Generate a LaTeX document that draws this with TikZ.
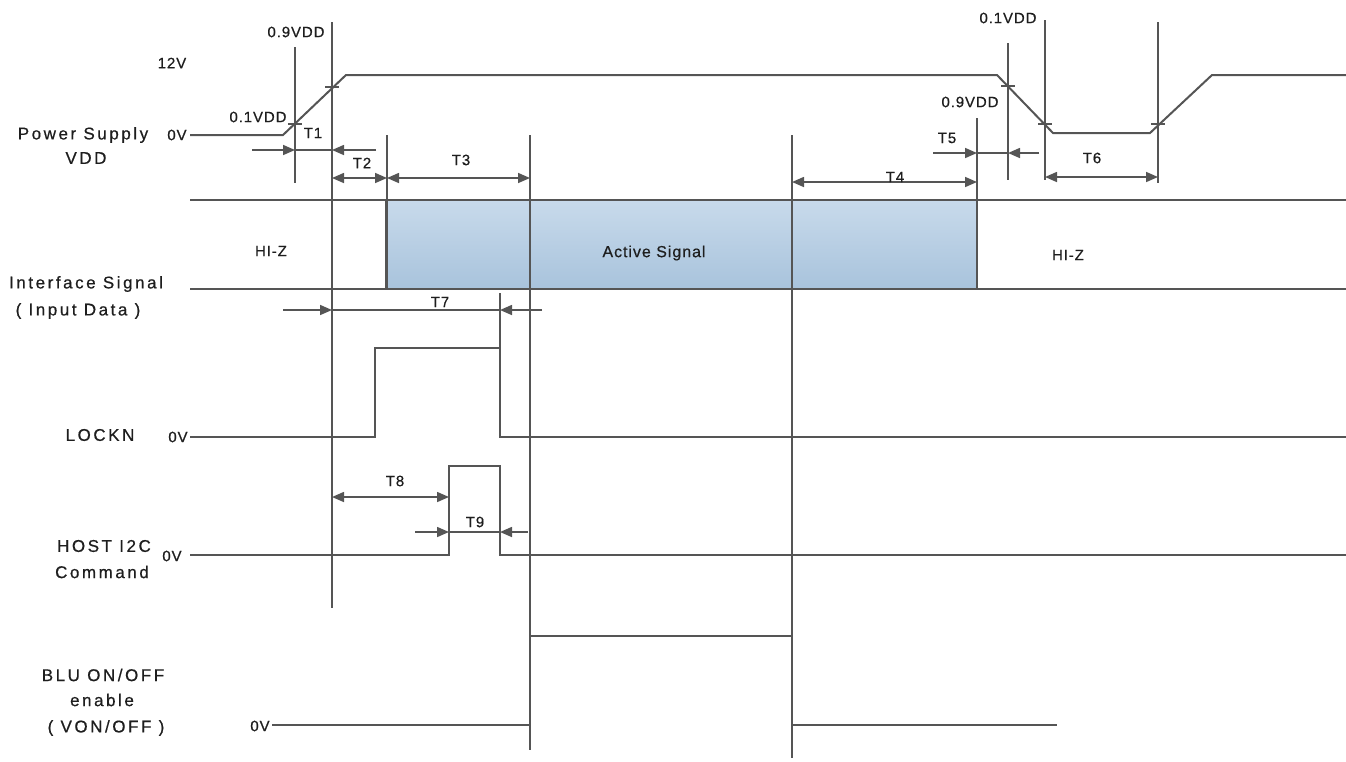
\documentclass[tikz,border=0pt]{standalone}
\usepackage{fontspec}
\setmainfont{Liberation Sans}
\newfontfamily\lblfont[LetterSpace=15,FakeBold=0.6]{Liberation Sans}
\newfontfamily\smfont[LetterSpace=6,FakeBold=0.6]{Liberation Sans}
\usetikzlibrary{arrows.meta}
\definecolor{ln}{HTML}{555555}
\definecolor{txt}{HTML}{1E1E1E}
\definecolor{boxtop}{HTML}{C8DAEB}
\definecolor{boxbot}{HTML}{A8C3DC}
\tikzset{
  sig/.style={draw=ln, line width=2pt, line join=miter},
  vline/.style={draw=ln, line width=1.8pt},
  dim/.style={draw=ln, line width=1.6pt},
  tip/.style={-{Triangle[length=12pt,width=10pt]}},
  tips/.style={{Triangle[length=12pt,width=10pt]}-{Triangle[length=12pt,width=10pt]}},
  lbl/.style={text=txt, inner sep=0pt, font=\lblfont\fontsize{17}{20}\selectfont},
  sm/.style={text=txt, inner sep=0pt, font=\smfont\fontsize{15}{18}\selectfont},
  mk/.style={draw=ln, line width=1.5pt},
}
\begin{document}
\begin{tikzpicture}[x=1pt,y=-1pt]
\useasboundingbox (0,0) rectangle (1346,761);
% ---------- active signal box ----------
\path[top color=boxtop,bottom color=boxbot] (386,200) rectangle (977,289);
% ---------- signals ----------
\draw[sig] (190,135) -- (283,135) -- (346,75) -- (997,75) -- (1053,133) -- (1150,133) -- (1212,75) -- (1346,75);
\draw[sig] (190,200) -- (1346,200);
\draw[sig] (190,289) -- (1346,289);
\draw[sig] (386,200) rectangle (977,289);
\draw[sig] (190,437) -- (375,437) -- (375,348) -- (500,348) -- (500,437) -- (1346,437);
\draw[sig] (190,555) -- (449,555) -- (449,466) -- (500,466) -- (500,555) -- (1346,555);
\draw[sig] (272,725) -- (530,725) -- (530,636) -- (792,636) -- (792,725) -- (1057,725);
% ---------- marker lines ----------
\draw[vline] (295,47) -- (295,183);
\draw[vline] (332,22) -- (332,608);
\draw[vline] (387,135) -- (387,289);
\draw[vline] (530,135) -- (530,750);
\draw[vline] (792,135) -- (792,758);
\draw[vline] (977,118) -- (977,289);
\draw[vline] (1008,43) -- (1008,180);
\draw[vline] (1045,20) -- (1045,180);
\draw[vline] (1158,22) -- (1158,183);
\draw[vline] (500,293) -- (500,348);
% ---------- ticks on ramps ----------
\draw[mk] (288,124) -- (302,124);
\draw[mk] (325,87) -- (339,87);
\draw[mk] (1001,86) -- (1015,86);
\draw[mk] (1038,124) -- (1052,124);
\draw[mk] (1151,124) -- (1165,124);
% ---------- dimension arrows ----------
% T1
\draw[dim,tip] (252,150) -- (295,150);
\draw[dim] (295,150) -- (332,150);
\draw[dim,tip] (376,150) -- (332,150);
% T2, T3
\draw[dim,tips] (332,178) -- (387,178);
\draw[dim,tips] (387,178) -- (530,178);
% T4
\draw[dim,tips] (792,182) -- (977,182);
% T5
\draw[dim,tip] (933,153) -- (977,153);
\draw[dim] (977,153) -- (1008,153);
\draw[dim,tip] (1039,153) -- (1008,153);
% T6
\draw[dim,tips] (1045,177) -- (1158,177);
% T7
\draw[dim,tip] (283,310) -- (332,310);
\draw[dim] (332,310) -- (500,310);
\draw[dim,tip] (542,310) -- (500,310);
% T8
\draw[dim,tips] (332,497) -- (449,497);
% T9
\draw[dim,tip] (415,532) -- (449,532);
\draw[dim] (449,532) -- (500,532);
\draw[dim,tip] (528,532) -- (500,532);
% ---------- small labels ----------
\node[sm] (v09a) at (296,32) {0.9VDD};
\node[sm] (v12) at (172,63) {12V};
\node[sm] (v01a) at (258,117) {0.1VDD};
\node[sm] (ps0) at (177,135) {0V};
\node[sm] (v01b) at (1008,18) {0.1VDD};
\node[sm] (v09b) at (970,102) {0.9VDD};
\node[sm] (t1) at (313,133) {T1};
\node[sm] (t2) at (362,163) {T2};
\node[sm] (t3) at (461,160) {T3};
\node[sm] (t4) at (895,177) {T4};
\node[sm] (t5) at (947,138) {T5};
\node[sm] (t6) at (1092,158) {T6};
\node[sm] (t7) at (440,302) {T7};
\node[sm] (t8) at (395,481) {T8};
\node[sm] (t9) at (475,522) {T9};
\node[sm] (hiz1) at (271,251) {HI-Z};
\node[sm] (hiz2) at (1068,255) {HI-Z};
\node[sm,font=\smfont\fontsize{16}{18}\selectfont] (act) at (654,253) {Active Signal};
\node[sm] (lk0) at (178,437) {0V};
\node[sm] (hc0) at (172,556) {0V};
\node[sm] (bl0) at (260,726) {0V};
% ---------- row labels ----------
\node[lbl] (ps1) at (83,135) {Power Supply};
\node[lbl] (ps2) at (86,158) {VDD};
\node[lbl] (if1) at (86,284) {Interface Signal};
\node[lbl] (if2) at (78,311) {( Input Data )};
\node[lbl] (lk) at (100,435) {LOCKN};
\node[lbl] (hc1) at (104,546) {HOST I2C};
\node[lbl] (hc2) at (102,572) {Command};
\node[lbl] (bl1) at (103,675) {BLU ON/OFF};
\node[lbl] (bl2) at (102,700) {enable};
\node[lbl] (bl3) at (106,728) {( VON/OFF )};
\end{tikzpicture}
\end{document}
